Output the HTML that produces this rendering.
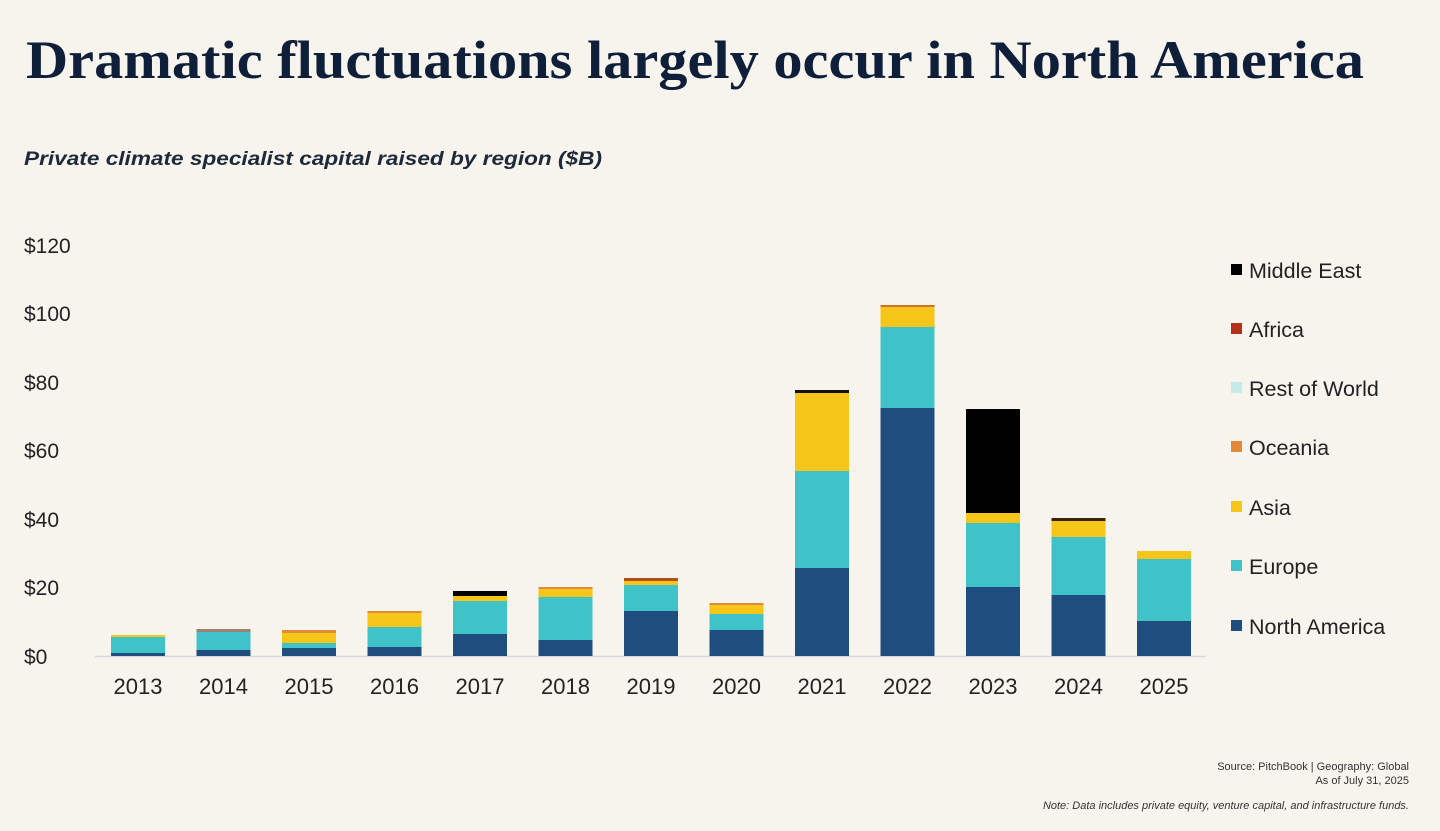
<!DOCTYPE html>
<html><head><meta charset="utf-8"><style>
html,body{margin:0;padding:0;background:#f7f4ee;}
svg{display:block}
</style></head><body>
<svg width="1440" height="831" xmlns="http://www.w3.org/2000/svg">
<rect width="1440" height="831" fill="#f7f4ee"/>
<text x="26" y="78" font-family="Liberation Serif, serif" font-weight="bold" font-size="54" fill="#0f1f3a" textLength="1338" lengthAdjust="spacingAndGlyphs">Dramatic fluctuations largely occur in North America</text>
<text x="24" y="165" font-family="Liberation Sans, sans-serif" font-weight="bold" font-style="italic" font-size="19" fill="#1e2a3a" textLength="578" lengthAdjust="spacingAndGlyphs">Private climate specialist capital raised by region ($B)</text>
<g font-family="Liberation Sans, sans-serif" font-size="21" fill="#222">
<text x="24" y="253">$120</text><text x="24" y="321">$100</text><text x="24" y="390">$80</text><text x="24" y="458">$60</text><text x="24" y="527">$40</text><text x="24" y="595">$20</text><text x="24" y="664">$0</text>
</g>
<line x1="95" y1="656.5" x2="1206" y2="656.5" stroke="#d8d8d8" stroke-width="1.5"/>
<g id="bars">
<rect x="111" y="653" width="54" height="3" fill="#1f4e7e"/><rect x="111" y="637" width="54" height="16" fill="#40c3c8"/><rect x="111" y="635" width="54" height="2" fill="#f5c518"/>
<rect x="196.5" y="650" width="54" height="6" fill="#1f4e7e"/><rect x="196.5" y="632" width="54" height="18" fill="#40c3c8"/><rect x="196.5" y="629" width="54" height="3" fill="#a08070"/>
<rect x="282" y="648" width="54" height="8" fill="#1f4e7e"/><rect x="282" y="643" width="54" height="5" fill="#40c3c8"/><rect x="282" y="633" width="54" height="10" fill="#f5c518"/><rect x="282" y="630" width="54" height="3" fill="#e08a3a"/>
<rect x="367.5" y="647" width="54" height="9" fill="#1f4e7e"/><rect x="367.5" y="627" width="54" height="20" fill="#40c3c8"/><rect x="367.5" y="613" width="54" height="14" fill="#f5c518"/><rect x="367.5" y="611" width="54" height="2" fill="#e08a3a"/>
<rect x="453" y="634" width="54" height="22" fill="#1f4e7e"/><rect x="453" y="601" width="54" height="33" fill="#40c3c8"/><rect x="453" y="596" width="54" height="5" fill="#f5c518"/><rect x="453" y="591" width="54" height="5" fill="#000"/>
<rect x="538.5" y="640" width="54" height="16" fill="#1f4e7e"/><rect x="538.5" y="597" width="54" height="43" fill="#40c3c8"/><rect x="538.5" y="589" width="54" height="8" fill="#f5c518"/><rect x="538.5" y="587" width="54" height="2" fill="#e08a3a"/>
<rect x="624" y="611" width="54" height="45" fill="#1f4e7e"/><rect x="624" y="585" width="54" height="26" fill="#40c3c8"/><rect x="624" y="581" width="54" height="4" fill="#f5c518"/><rect x="624" y="578" width="54" height="3" fill="#b5501a"/>
<rect x="709.5" y="630" width="54" height="26" fill="#1f4e7e"/><rect x="709.5" y="614" width="54" height="16" fill="#40c3c8"/><rect x="709.5" y="605" width="54" height="9" fill="#f5c518"/><rect x="709.5" y="603" width="54" height="2" fill="#e08a3a"/>
<rect x="795" y="568" width="54" height="88" fill="#1f4e7e"/><rect x="795" y="471" width="54" height="97" fill="#40c3c8"/><rect x="795" y="393" width="54" height="78" fill="#f5c518"/><rect x="795" y="390" width="54" height="3" fill="#111"/>
<rect x="880.5" y="408" width="54" height="248" fill="#1f4e7e"/><rect x="880.5" y="327" width="54" height="81" fill="#40c3c8"/><rect x="880.5" y="307" width="54" height="20" fill="#f5c518"/><rect x="880.5" y="305" width="54" height="2" fill="#d0702a"/>
<rect x="966" y="587" width="54" height="69" fill="#1f4e7e"/><rect x="966" y="523" width="54" height="64" fill="#40c3c8"/><rect x="966" y="513" width="54" height="10" fill="#f5c518"/><rect x="966" y="409" width="54" height="104" fill="#000"/>
<rect x="1051.5" y="595" width="54" height="61" fill="#1f4e7e"/><rect x="1051.5" y="537" width="54" height="58" fill="#40c3c8"/><rect x="1051.5" y="521" width="54" height="16" fill="#f5c518"/><rect x="1051.5" y="518" width="54" height="3" fill="#3a2010"/>
<rect x="1137" y="621" width="54" height="35" fill="#1f4e7e"/><rect x="1137" y="559" width="54" height="62" fill="#40c3c8"/><rect x="1137" y="551" width="54" height="8" fill="#f5c518"/>
</g>
<g font-family="Liberation Sans, sans-serif" font-size="22" fill="#222" text-anchor="middle">
<text x="138" y="694">2013</text><text x="223.5" y="694">2014</text><text x="309" y="694">2015</text><text x="394.5" y="694">2016</text><text x="480" y="694">2017</text><text x="565.5" y="694">2018</text><text x="651" y="694">2019</text><text x="736.5" y="694">2020</text><text x="822" y="694">2021</text><text x="907.5" y="694">2022</text><text x="993" y="694">2023</text><text x="1078.5" y="694">2024</text><text x="1164" y="694">2025</text>
</g>
<g font-family="Liberation Sans, sans-serif" font-size="21.5" fill="#222">
<rect x="1231" y="264" width="11" height="11" fill="#000"/><text x="1249" y="278">Middle East</text>
<rect x="1231" y="323" width="11" height="11" fill="#b5301a"/><text x="1249" y="337">Africa</text>
<rect x="1231" y="382" width="11" height="11" fill="#c5ebe9"/><text x="1249" y="396">Rest of World</text>
<rect x="1231" y="441" width="11" height="11" fill="#e08a3a"/><text x="1249" y="455">Oceania</text>
<rect x="1231" y="501" width="11" height="11" fill="#f5c518"/><text x="1249" y="515">Asia</text>
<rect x="1231" y="560" width="11" height="11" fill="#40c3c8"/><text x="1249" y="574">Europe</text>
<rect x="1231" y="620" width="11" height="11" fill="#1f4e7e"/><text x="1249" y="634">North America</text>
</g>
<g font-family="Liberation Sans, sans-serif" font-size="11" fill="#333" text-anchor="end">
<text x="1409" y="770">Source: PitchBook | Geography: Global</text>
<text x="1409" y="784">As of July 31, 2025</text>
<text x="1409" y="809" font-style="italic">Note: Data includes private equity, venture capital, and infrastructure funds.</text>
</g>
</svg>
</body></html>
